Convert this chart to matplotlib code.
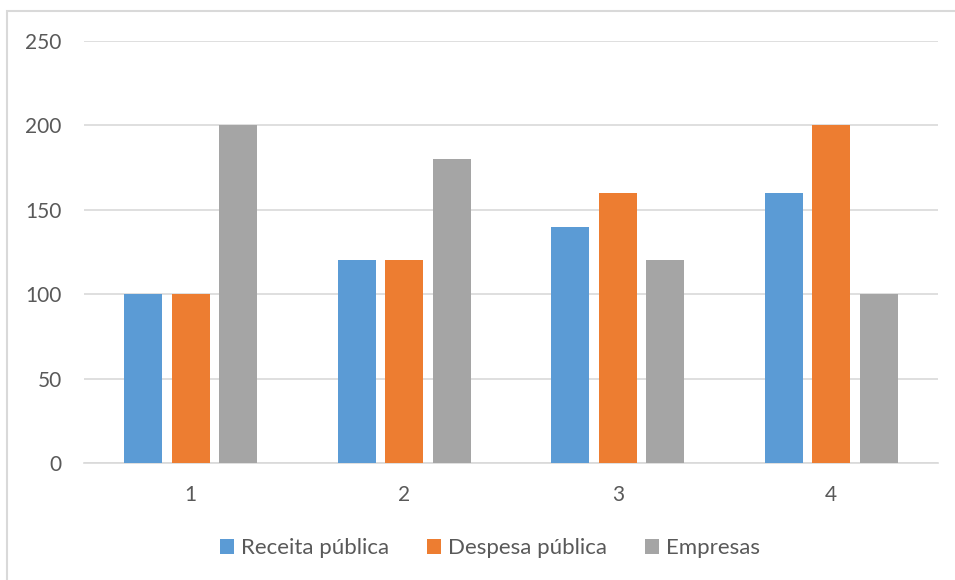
import matplotlib
matplotlib.use("Agg")
import matplotlib.pyplot as plt
import numpy as np
from matplotlib.patches import Rectangle

categories = ["1", "2", "3", "4"]
series_names = ["Receita pública", "Despesa pública", "Empresas"]
receita = [100, 120, 140, 160]
despesa = [100, 120, 160, 200]
empresas = [200, 180, 120, 100]
colors = ["#5b9bd5", "#ed7d31", "#a5a5a5"]
yticks = [0, 50, 100, 150, 200, 250]

plt.rcParams['font.family'] = ['Lato', 'DejaVu Sans']

fig = plt.figure(figsize=(9.55, 5.8), dpi=100)
ax = fig.add_axes([84/955, 1-463/580, (938-84)/955, (463-41)/580])

x = np.arange(len(categories))
w = 0.178
off = 0.222
for i, (vals, name, c) in enumerate(zip([receita, despesa, empresas], series_names, colors)):
    ax.bar(x + (i-1)*off, vals, width=w, color=c, label=name, zorder=3)

ax.set_xlim(-0.5, 3.5)
ax.set_ylim(0, 250)
ax.set_yticks(yticks)
ax.set_xticks(x)
ax.set_xticklabels(categories)
ax.grid(axis='y', color='#d9d9d9', linewidth=1.2, zorder=0)
for s in ['top', 'right', 'left']:
    ax.spines[s].set_visible(False)
ax.spines['bottom'].set_color('#d9d9d9')
ax.spines['bottom'].set_linewidth(1.2)
ax.tick_params(axis='both', length=0, labelsize=15, labelcolor='#595959')
ax.tick_params(axis='y', pad=16)
ax.tick_params(axis='x', pad=16)

leg = fig.legend(loc='center', bbox_to_anchor=(490/955, 1-548/580), ncol=3, frameon=False,
                 fontsize=16, handlelength=0.65, handleheight=0.65, handletextpad=0.3,
                 columnspacing=1.7, labelcolor='#595959')

fig.patches.append(Rectangle((7/955, -0.1), 1.2, 1-11/580+0.1, transform=fig.transFigure,
                             fill=False, edgecolor='#d9d9d9', linewidth=1.5, zorder=0))

fig.savefig("out.png", dpi=100)
